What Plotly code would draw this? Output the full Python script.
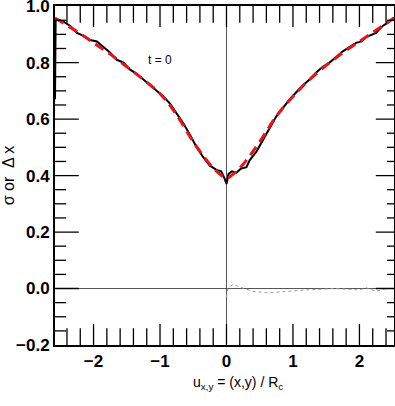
import plotly.graph_objects as go

# smooth fit (red dashed)
fit_u = [-2.58, -2.25, -2.0, -1.75, -1.5, -1.25, -1.0, -0.75, -0.5, -0.25, -0.1, 0.0,
         0.1, 0.25, 0.5, 0.75, 1.0, 1.25, 1.5, 1.75, 2.0, 2.25, 2.52]
fit_s = [0.958, 0.91, 0.87, 0.83, 0.785, 0.74, 0.69, 0.615, 0.52, 0.44, 0.405, 0.39,
         0.405, 0.44, 0.52, 0.61, 0.68, 0.74, 0.79, 0.835, 0.875, 0.915, 0.958]

# measured profile (black)
data_u = [-2.58, -2.57, -2.45, -2.35, -2.25, -2.15, -2.05, -1.95, -1.85, -1.75, -1.65,
          -1.55, -1.45, -1.35, -1.25, -1.15, -1.05, -0.95, -0.85, -0.75, -0.65, -0.55,
          -0.45, -0.35, -0.25, -0.15, -0.08, -0.03, 0.0, 0.03, 0.08, 0.15, 0.22, 0.3,
          0.35, 0.45, 0.55, 0.65, 0.75, 0.85, 0.95, 1.05, 1.15, 1.25, 1.35, 1.45, 1.55,
          1.65, 1.75, 1.85, 1.95, 2.03, 2.1, 2.25, 2.35, 2.45, 2.52]
data_s = [0.67, 0.955, 0.945, 0.93, 0.905, 0.895, 0.88, 0.875, 0.855, 0.835, 0.81,
          0.8, 0.775, 0.76, 0.74, 0.72, 0.70, 0.68, 0.655, 0.62, 0.585, 0.545,
          0.5, 0.465, 0.435, 0.42, 0.415, 0.39, 0.37, 0.405, 0.415, 0.41, 0.425, 0.43,
          0.455, 0.485, 0.525, 0.57, 0.61, 0.64, 0.67, 0.695, 0.72, 0.74, 0.765, 0.785, 0.8,
          0.82, 0.84, 0.855, 0.87, 0.875, 0.89, 0.905, 0.93, 0.945, 0.96]

# residual (dotted)
res_u = [0.0, 0.02, 0.1, 0.2, 0.4, 0.6, 0.8, 1.0, 1.2, 1.4, 1.6, 1.8, 2.0, 2.1, 2.25, 2.4, 2.52]
res_d = [-0.03, 0.0, 0.015, 0.005, -0.01, -0.015, -0.012, -0.008, -0.005, -0.003, 0.0,
         -0.002, -0.005, 0.003, -0.01, 0.0, 0.0]

# tick positions
x_major = [-2, -1, 0, 1, 2]
x_minor = [-2.4, -2.2, -1.8, -1.6, -1.4, -1.2, -0.8, -0.6, -0.4, -0.2,
           0.2, 0.4, 0.6, 0.8, 1.2, 1.4, 1.6, 1.8, 2.2, 2.4]
y_major = [0.0, 0.2, 0.4, 0.6, 0.8]
y_minor = [-0.15, -0.1, -0.05, 0.05, 0.1, 0.15, 0.25, 0.3, 0.35, 0.45, 0.5, 0.55,
           0.65, 0.7, 0.75, 0.85, 0.9, 0.95]

xr = [-2.58, 2.52]
yr = [-0.2, 1.0005]

fig = go.Figure()
fig.add_trace(go.Scatter(x=xr, y=[0, 0], mode="lines", line=dict(color="#555555", width=1)))
fig.add_trace(go.Scatter(x=[0, 0], y=[-0.2, 1.0], mode="lines", line=dict(color="#555555", width=1)))
fig.add_trace(go.Scatter(x=res_u, y=res_d, mode="lines",
                         line=dict(color="#999999", width=1, dash="dot")))
fig.add_trace(go.Scatter(x=data_u, y=data_s, mode="lines", line=dict(color="black", width=2)))
fig.add_trace(go.Scatter(x=fit_u, y=fit_s, mode="lines", line_shape="spline",
                         line=dict(color="#e8141c", width=3, dash="10px,6px")))


def tick_marks(xs, ys, symbol, length):
    # line markers centred on the frame; the plot-area clip keeps only the inner half
    fig.add_trace(go.Scatter(x=xs, y=ys, mode="markers", hoverinfo="skip", cliponaxis=True,
                             marker=dict(symbol=symbol, size=2 * length, color="black",
                                         line=dict(color="black", width=1.3))))


tick_marks(x_major, [yr[0]] * len(x_major), "line-ns", 15)
tick_marks(x_minor, [yr[0]] * len(x_minor), "line-ns", 12)
tick_marks(x_major, [yr[1]] * len(x_major), "line-ns", 15)
tick_marks(x_minor, [yr[1]] * len(x_minor), "line-ns", 12)
tick_marks([xr[0]] * len(y_major), y_major, "line-ew", 17)
tick_marks([xr[0]] * len(y_minor), y_minor, "line-ew", 8)
tick_marks([xr[1]] * len(y_major), y_major, "line-ew", 13)
tick_marks([xr[1]] * len(y_minor), y_minor, "line-ew", 5)

fig.add_annotation(x=-1.0, y=0.81, text="t = 0", showarrow=False,
                   font=dict(size=12, color="black", family="Liberation Sans"))
fig.add_annotation(x=0.54, y=-0.145, xref="paper", yref="paper", showarrow=False,
                   text="u<sub>x,y</sub> = (x,y) / R<sub>c</sub>",
                   font=dict(family="Liberation Sans", size=14, color="black"))

lab = dict(family="Liberation Sans", size=17, color="black", weight=700)

fig.update_layout(template="simple_white")
fig.update_xaxes(range=xr, dtick=1, tick0=0, ticks="", tickfont=lab, showline=True, linewidth=2,
                 linecolor="black", mirror=True, showgrid=False, zeroline=False,
                 ticklabeloverflow="allow", fixedrange=True)
fig.update_yaxes(range=yr, dtick=0.2, tick0=0, tickformat=".1f", ticks="", tickfont=lab,
                 showline=True, linewidth=2, linecolor="black", mirror=True, showgrid=False,
                 zeroline=False, ticklabeloverflow="allow", fixedrange=True,
                 title=dict(text="σ or  Δ x", standoff=9,
                            font=dict(family="Liberation Sans", size=16, color="black")))

fig.update_layout(width=395, height=406, margin=dict(l=55, r=1, t=6, b=61, autoexpand=False),
                  plot_bgcolor="white", paper_bgcolor="white", showlegend=False)

fig.write_html("out.html", config={"displayModeBar": False},
               post_script="document.body.style.margin='0';")
